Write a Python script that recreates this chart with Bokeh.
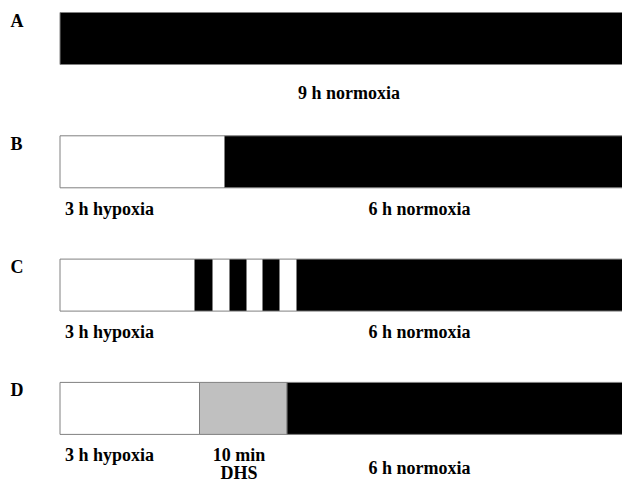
from bokeh.plotting import figure
from bokeh.models import Range1d, ColumnDataSource
from bokeh.embed import file_html
from bokeh.resources import INLINE
from bokeh.core.properties import value
import numpy as np

# ---- data (segment lengths in schematic units, as drawn) ----
rows = ["A", "B", "C", "D"]
seg_A = [562.5]
kind_A = ["normoxia"]
seg_B = [164.5, 398.0]
kind_B = ["hypoxia", "normoxia"]
seg_C = [134.5, 18, 17, 17, 16, 17, 17, 326.0]
kind_C = ["hypoxia", "normoxia", "hypoxia", "normoxia", "hypoxia", "normoxia", "hypoxia", "normoxia"]
seg_D = [139.5, 87.5, 335.5]
kind_D = ["hypoxia", "DHS", "normoxia"]

colors = {"hypoxia": "white", "normoxia": "black", "DHS": "#c0c0c0"}

FONT = value("Liberation Serif")
FS = "18px"

W, H = 622, 483
p = figure(width=W, height=H, output_backend="svg", toolbar_location=None,
           x_range=Range1d(-59.5, 562.5), y_range=Range1d(H, 0),
           min_border=0, min_border_left=0, min_border_right=0,
           min_border_top=0, min_border_bottom=0)
p.xaxis.visible = False
p.yaxis.visible = False
p.grid.visible = False
p.outline_line_color = None
p.background_fill_color = "white"
p.border_fill_color = "white"

ROW_STEP = 123.3
ROW_TOP0 = 12.0
BAR_H = 52.0

left, right, top, bottom, fill = [], [], [], [], []
for i, (segs, kinds) in enumerate([(seg_A, kind_A), (seg_B, kind_B), (seg_C, kind_C), (seg_D, kind_D)]):
    edges = np.concatenate([[0.0], np.cumsum(segs)])
    t = ROW_TOP0 + ROW_STEP * i
    for j, k in enumerate(kinds):
        left.append(edges[j]); right.append(edges[j + 1])
        top.append(t); bottom.append(t + BAR_H)
        fill.append(colors[k])

src = ColumnDataSource(dict(left=left, right=right, top=top, bottom=bottom, fill=fill))
p.quad(left="left", right="right", top="top", bottom="bottom", source=src,
       fill_color="fill", line_color="#808080", line_width=1)

def row_top(i):
    return ROW_TOP0 + ROW_STEP * i

# row letters
p.text(x=[-49.5] * 4, y=[row_top(i) + 8 for i in range(4)], text=rows,
       text_font=FONT, text_font_style="bold", text_font_size=FS,
       text_align="left", text_baseline="alphabetic", text_color="black")

# under-bar labels
lab_x, lab_y, lab_t = [], [], []
lab_t.append("9 h normoxia"); lab_x.append(289); lab_y.append(row_top(0) + 80.5)
for i in (1, 2):
    lab_t.append("3 h hypoxia"); lab_x.append(49.5); lab_y.append(row_top(i) + 73)
    lab_t.append("6 h normoxia"); lab_x.append(359.5); lab_y.append(row_top(i) + 73)
lab_t.append("3 h hypoxia"); lab_x.append(49.5); lab_y.append(row_top(3) + 73)
lab_t.append("10 min"); lab_x.append(179); lab_y.append(row_top(3) + 73)
lab_t.append("DHS"); lab_x.append(179); lab_y.append(row_top(3) + 91)
lab_t.append("6 h normoxia"); lab_x.append(359.5); lab_y.append(row_top(3) + 86)

p.text(x=lab_x, y=lab_y, text=lab_t,
       text_font=FONT, text_font_style="bold", text_font_size=FS,
       text_align="center", text_baseline="alphabetic", text_color="black")

open("out.html", "w").write(file_html(p, INLINE))
